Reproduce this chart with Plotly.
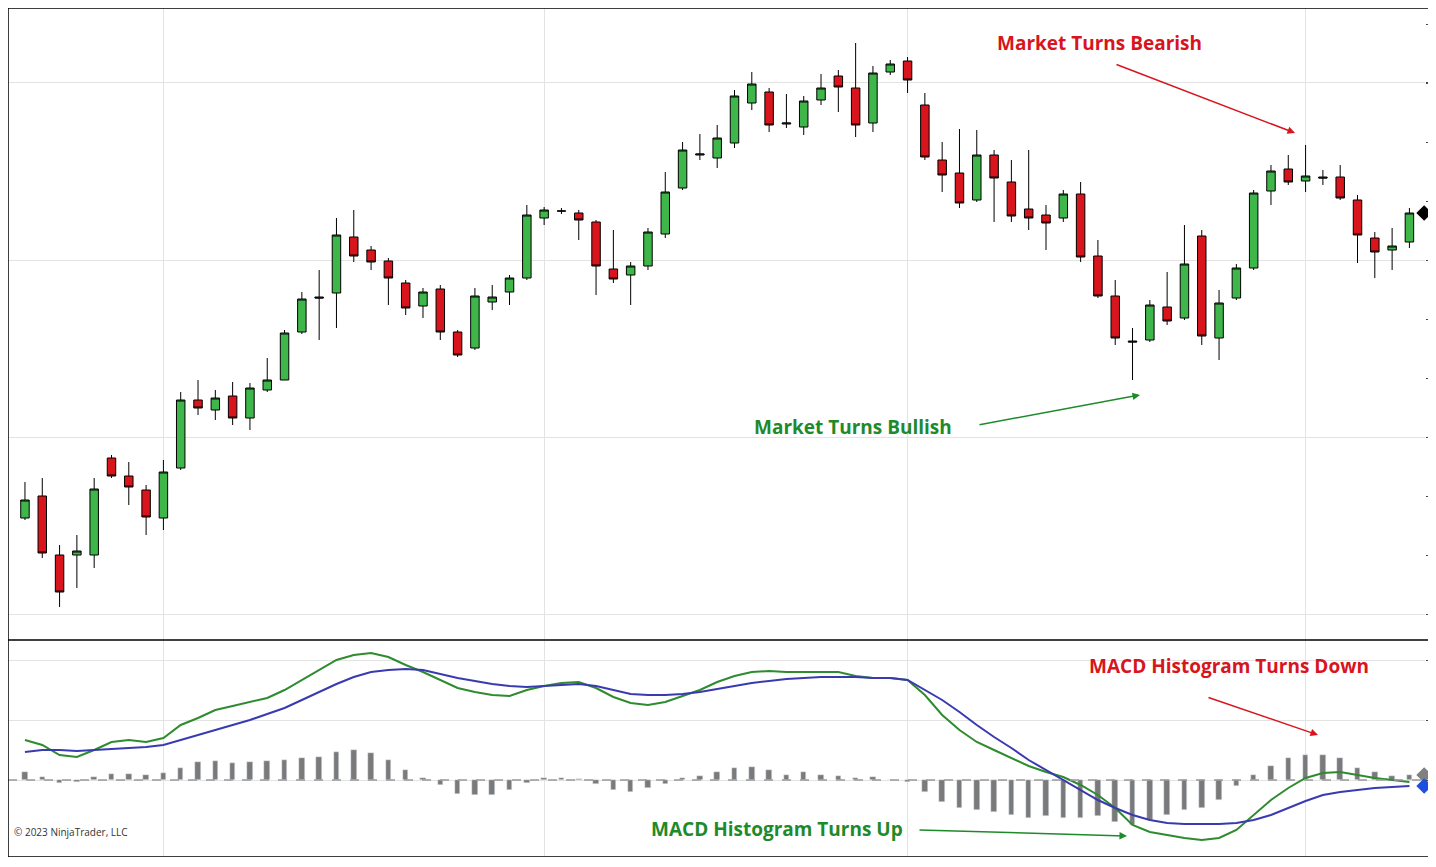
import plotly.graph_objects as go

opens  = [182,204,145,145,145,242,224,210,182,232,300,290,304,282,310,320,368,403,407,463,450,439,417,394,411,368,352,398,408,422,482,489,487,478,431,425,434,466,512,545,542,557,597,608,576,573,600,624,612,577,628,639,595,540,527,500,545,518,491,485,482,506,444,404,359,360,393,382,464,362,402,432,509,531,519,523,523,500,462,450,458]
highs  = [218,222,155,165,222,245,238,215,240,308,320,310,318,317,342,370,408,430,482,490,454,442,420,412,415,370,412,415,425,495,493,492,490,480,470,438,472,528,558,566,575,610,628,612,606,604,626,630,657,634,640,643,607,558,571,570,550,540,550,495,510,518,460,420,372,400,428,475,470,410,436,510,535,545,555,530,535,505,468,472,492]
lows   = [180,142,93,112,132,222,195,165,170,230,285,280,275,270,308,320,366,360,372,438,430,395,385,382,360,343,350,390,395,420,475,486,460,405,417,395,430,462,510,540,532,552,590,568,572,565,595,588,563,568,625,607,540,508,492,498,478,478,470,450,478,438,402,355,320,358,375,380,355,340,400,430,495,515,508,515,500,437,422,430,452]
closes = [200,147,108,149,211,224,213,183,228,300,292,302,282,312,320,367,401,402,465,444,438,422,392,408,368,345,404,403,422,485,490,489,480,434,421,434,468,508,550,546,562,604,616,575,577,599,612,613,575,627,636,620,543,525,497,545,522,484,482,477,506,443,404,362,358,395,379,436,364,397,432,507,529,518,524,522,502,465,448,454,487]
hist   = [8,3,-3,-2,3,6,6,5,7,12,18,19,17,18,19,20,22,23,28,30,27,20,10,2,-5,-14,-15,-15,-10,-3,2,2,1,-4,-10,-12,-8,-4,2,4,8,12,13,10,5,8,5,4,2,3,0,-2,-12,-22,-28,-30,-32,-35,-38,-36,-38,-38,-36,-42,-45,-40,-35,-30,-28,-20,-6,5,14,22,25,25,22,12,8,4,5]
macd   = [40,35,25,23,30,38,40,38,42,55,62,70,74,78,82,90,100,110,120,125,127,123,115,108,100,92,88,85,84,90,94,97,98,92,83,77,75,78,84,90,98,104,108,109,108,108,108,108,104,102,102,100,85,65,50,38,30,22,14,8,3,-5,-15,-28,-45,-52,-55,-58,-60,-58,-50,-35,-20,-8,2,7,8,5,2,0,-2]
signal = [28,30,30,29,30,31,32,33,35,40,45,50,55,60,66,72,80,88,96,103,108,110,111,110,106,102,99,96,94,93,94,95,96,94,90,86,85,85,86,88,91,94,97,99,101,102,103,103,103,102,102,100,90,80,68,55,43,32,20,10,0,-10,-20,-28,-35,-40,-43,-44,-44,-44,-43,-40,-35,-28,-21,-15,-12,-10,-8,-7,-6]
xs = list(range(len(opens)))

GREEN = "#3fb64a"; RED = "#d8141c"
OFF = 8                      # page body margin
W, H = 1424, 849             # figure spans page x 8..1432, y 8..857
L, R, T, B = 0, 7, 0, 0
pw, ph = W - L - R, H - T - B
def px(x): return (x - OFF - L) / pw
def py(y): return (OFF + H - B - y) / ph
split = py(640)

fig = go.Figure()
fig.add_trace(go.Candlestick(x=xs, open=opens, high=highs, low=lows, close=closes,
    increasing=dict(line=dict(color="black", width=1), fillcolor=GREEN),
    decreasing=dict(line=dict(color="black", width=1), fillcolor=RED),
    whiskerwidth=0, showlegend=False, xaxis="x", yaxis="y"))
fig.add_trace(go.Bar(x=xs, y=hist, marker_color="#7a7a7a", width=0.32, xaxis="x2", yaxis="y2", showlegend=False))
fig.add_trace(go.Scatter(x=xs, y=macd, mode="lines", line=dict(color="#2e8b2e", width=2), xaxis="x2", yaxis="y2", showlegend=False))
fig.add_trace(go.Scatter(x=xs, y=signal, mode="lines", line=dict(color="#3a3ab0", width=2), xaxis="x2", yaxis="y2", showlegend=False))
fig.add_trace(go.Scatter(x=[80.85], y=[closes[-1]], mode="markers", marker=dict(symbol="diamond", size=12, color="black"), cliponaxis=False, xaxis="x", yaxis="y", showlegend=False))
fig.add_trace(go.Scatter(x=[80.85, 80.85], y=[hist[-1], signal[-1]], mode="markers", marker=dict(symbol="diamond", size=12, color=["#808080", "#1f4fe0"]), cliponaxis=False, xaxis="x2", yaxis="y2", showlegend=False))

xr = [-0.98, 80.9]
gx = dict(range=xr, tickvals=[8, 30, 51, 74], showticklabels=False, showgrid=True, gridcolor="#e3e3e3", zeroline=False, rangeslider=dict(visible=False), ticks="")
fig.update_layout(
    width=W, height=H, margin=dict(l=L, r=R, t=T, b=B),
    paper_bgcolor="white", plot_bgcolor="white", bargap=0,
    xaxis=dict(gx, domain=[0, 1], anchor="y"),
    xaxis2=dict(gx, domain=[0, 1], anchor="y2", matches="x"),
    yaxis=dict(domain=[split, 1], range=[60, 692], tickvals=[86, 263, 440, 618], showticklabels=False,
               showgrid=True, gridcolor="#e3e3e3", zeroline=False, side="right", ticks="outside", ticklen=7,
               minor=dict(dtick=59, tick0=86, ticks="outside", ticklen=4, showgrid=False)),
    yaxis2=dict(domain=[0, split], range=[-77, 140], tickvals=[0, 60, 120], showticklabels=False,
                showgrid=True, gridcolor="#e3e3e3", zeroline=False, side="right", ticks="outside", ticklen=7),
    font=dict(family="Open Sans"),
)
fig.add_hline(y=0, line=dict(color="#999", width=1.5, dash="dash"), xref="x2", yref="y2")
fig.add_shape(type="rect", xref="paper", yref="paper", x0=0, x1=1 + R / pw, y0=0, y1=1, line=dict(color="black", width=1.5))
fig.add_shape(type="line", xref="paper", yref="paper", x0=0, x1=1 + R / pw, y0=split, y1=split, line=dict(color="black", width=1.5))

def label(t, x, y, c, size=19):
    fig.add_annotation(text="<b>%s</b>" % t, x=px(x), y=py(y), xref="paper", yref="paper", xanchor="center", yanchor="middle",
                       showarrow=False, font=dict(size=size, color=c))
def arrow(x0, y0, x1, y1, c):
    fig.add_annotation(text="", x=px(x1), y=py(y1), xref="paper", yref="paper", ax=x0 - x1, ay=y0 - y1,
                       axref="pixel", ayref="pixel", showarrow=True, arrowhead=2, arrowsize=1, arrowwidth=1.5, arrowcolor=c)

label("Market Turns Bearish", 1099, 43, RED)
arrow(1115, 64, 1295, 133, RED)
label("Market Turns Bullish", 853, 427, "#1e8a2a")
arrow(978, 425, 1140, 395, "#1e8a2a")
label("MACD Histogram Turns Down", 1229, 666, RED)
arrow(1207, 697, 1318, 735, RED)
label("MACD Histogram Turns Up", 777, 829, "#1e8a2a")
arrow(918, 830, 1127, 836, "#1e8a2a")
fig.add_annotation(text="© 2023 NinjaTrader, LLC", x=px(12), y=py(841), xref="paper", yref="paper", xanchor="left",
                   showarrow=False, font=dict(size=10, color="#333"))

fig.write_html("out.html")
